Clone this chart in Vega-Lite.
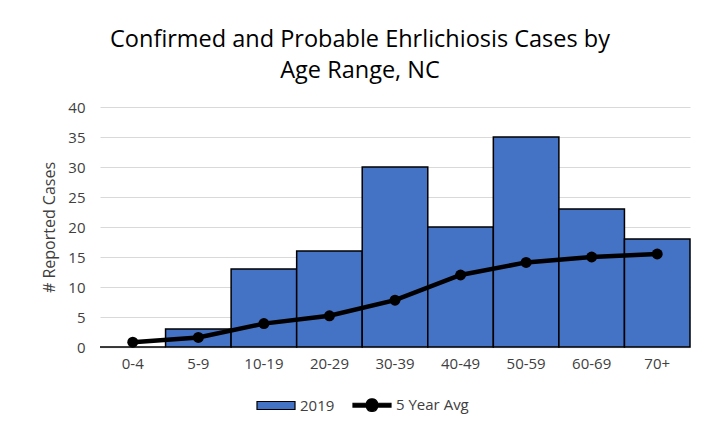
{
  "$schema": "https://vega.github.io/schema/vega-lite/v6.json",
  "width": 590,
  "height": 240,
  "autosize": {"type": "none"},
  "padding": {"left": 100, "top": 107, "right": 26, "bottom": 82},
  "background": "white",
  "config": {
    "font": "Open Sans",
    "view": {"stroke": null}
  },
  "title": {
    "text": ["Confirmed and Probable Ehrlichiosis Cases by", "Age Range, NC"],
    "fontSize": 23.5,
    "fontWeight": "normal",
    "font": "Open Sans",
    "color": "#000000",
    "anchor": "middle",
    "dx": -35,
    "offset": 18,
    "lineHeight": 31
  },
  "data": {
    "values": [
      {"age": "0-4", "cases": 0, "avg": 0.8},
      {"age": "5-9", "cases": 3, "avg": 1.6},
      {"age": "10-19", "cases": 13, "avg": 3.9},
      {"age": "20-29", "cases": 16, "avg": 5.2},
      {"age": "30-39", "cases": 30, "avg": 7.8},
      {"age": "40-49", "cases": 20, "avg": 12},
      {"age": "50-59", "cases": 35, "avg": 14.1},
      {"age": "60-69", "cases": 23, "avg": 15},
      {"age": "70+", "cases": 18, "avg": 15.5}
    ]
  },
  "encoding": {
    "x": {
      "field": "age",
      "type": "ordinal",
      "sort": null,
      "scale": {"paddingInner": 0, "paddingOuter": 0},
      "axis": {
        "title": null,
        "labelAngle": 0,
        "labelFontSize": 15,
        "labelColor": "#404040",
        "labelPadding": 9,
        "ticks": false,
        "grid": false,
        "domainColor": "#d9d9d9",
        "domainWidth": 1.5
      }
    },
    "y": {
      "field": "cases",
      "type": "quantitative",
      "scale": {"domain": [0, 40]},
      "axis": {
        "title": "# Reported Cases",
        "values": [0, 5, 10, 15, 20, 25, 30, 35, 40],
        "titleFontSize": 16,
        "titleFontWeight": "normal",
        "titleColor": "#404040",
        "titlePadding": 10,
        "labelFontSize": 15,
        "labelColor": "#404040",
        "labelPadding": 15,
        "ticks": false,
        "domain": false,
        "gridColor": "#d9d9d9",
        "gridWidth": 1.2
      }
    }
  },
  "layer": [
    {
      "mark": {"type": "bar", "stroke": "#000000", "strokeWidth": 1.5},
      "encoding": {
        "color": {
          "datum": "2019",
          "scale": {"domain": ["2019", "5 Year Avg"], "range": ["#4472C4", "#000000"]},
          "legend": {
            "title": null,
            "orient": "none",
            "direction": "horizontal",
            "legendX": 156,
            "legendY": 278,
            "labelFontSize": 15,
            "labelColor": "#404040",
            "symbolSize": 1444,
            "columnPadding": 15,
            "labelOffset": 4,
            "symbolStrokeColor": "#000000",
            "symbolStrokeWidth": 1.2,
            "symbolOpacity": 1,
            "encoding": {
              "symbols": {
                "shape": {
                  "condition": {"test": "datum.value === '2019'", "value": "M-1,-0.21H1V0.21H-1Z"},
                  "value": "M-1,-0.1H-0.3A0.31,0.31 0 0,1 0.3,-0.1H1V0.1H0.3A0.31,0.31 0 0,1 -0.3,0.1H-1Z"
                },
                "fill": {
                  "condition": {"test": "datum.value === '2019'", "value": "#4472C4"},
                  "value": "#000000"
                },
                "stroke": {"value": "#000000"},
                "strokeWidth": {"value": 1.2},
                "opacity": {"value": 1}
              }
            }
          }
        }
      }
    },
    {
      "mark": {"type": "line", "strokeWidth": 4.5, "color": "#000000"},
      "encoding": {
        "y": {"field": "avg", "type": "quantitative"}
      }
    },
    {
      "mark": {"type": "point", "filled": true, "size": 120, "opacity": 1, "color": "#000000"},
      "encoding": {
        "y": {"field": "avg", "type": "quantitative"}
      }
    }
  ]
}
